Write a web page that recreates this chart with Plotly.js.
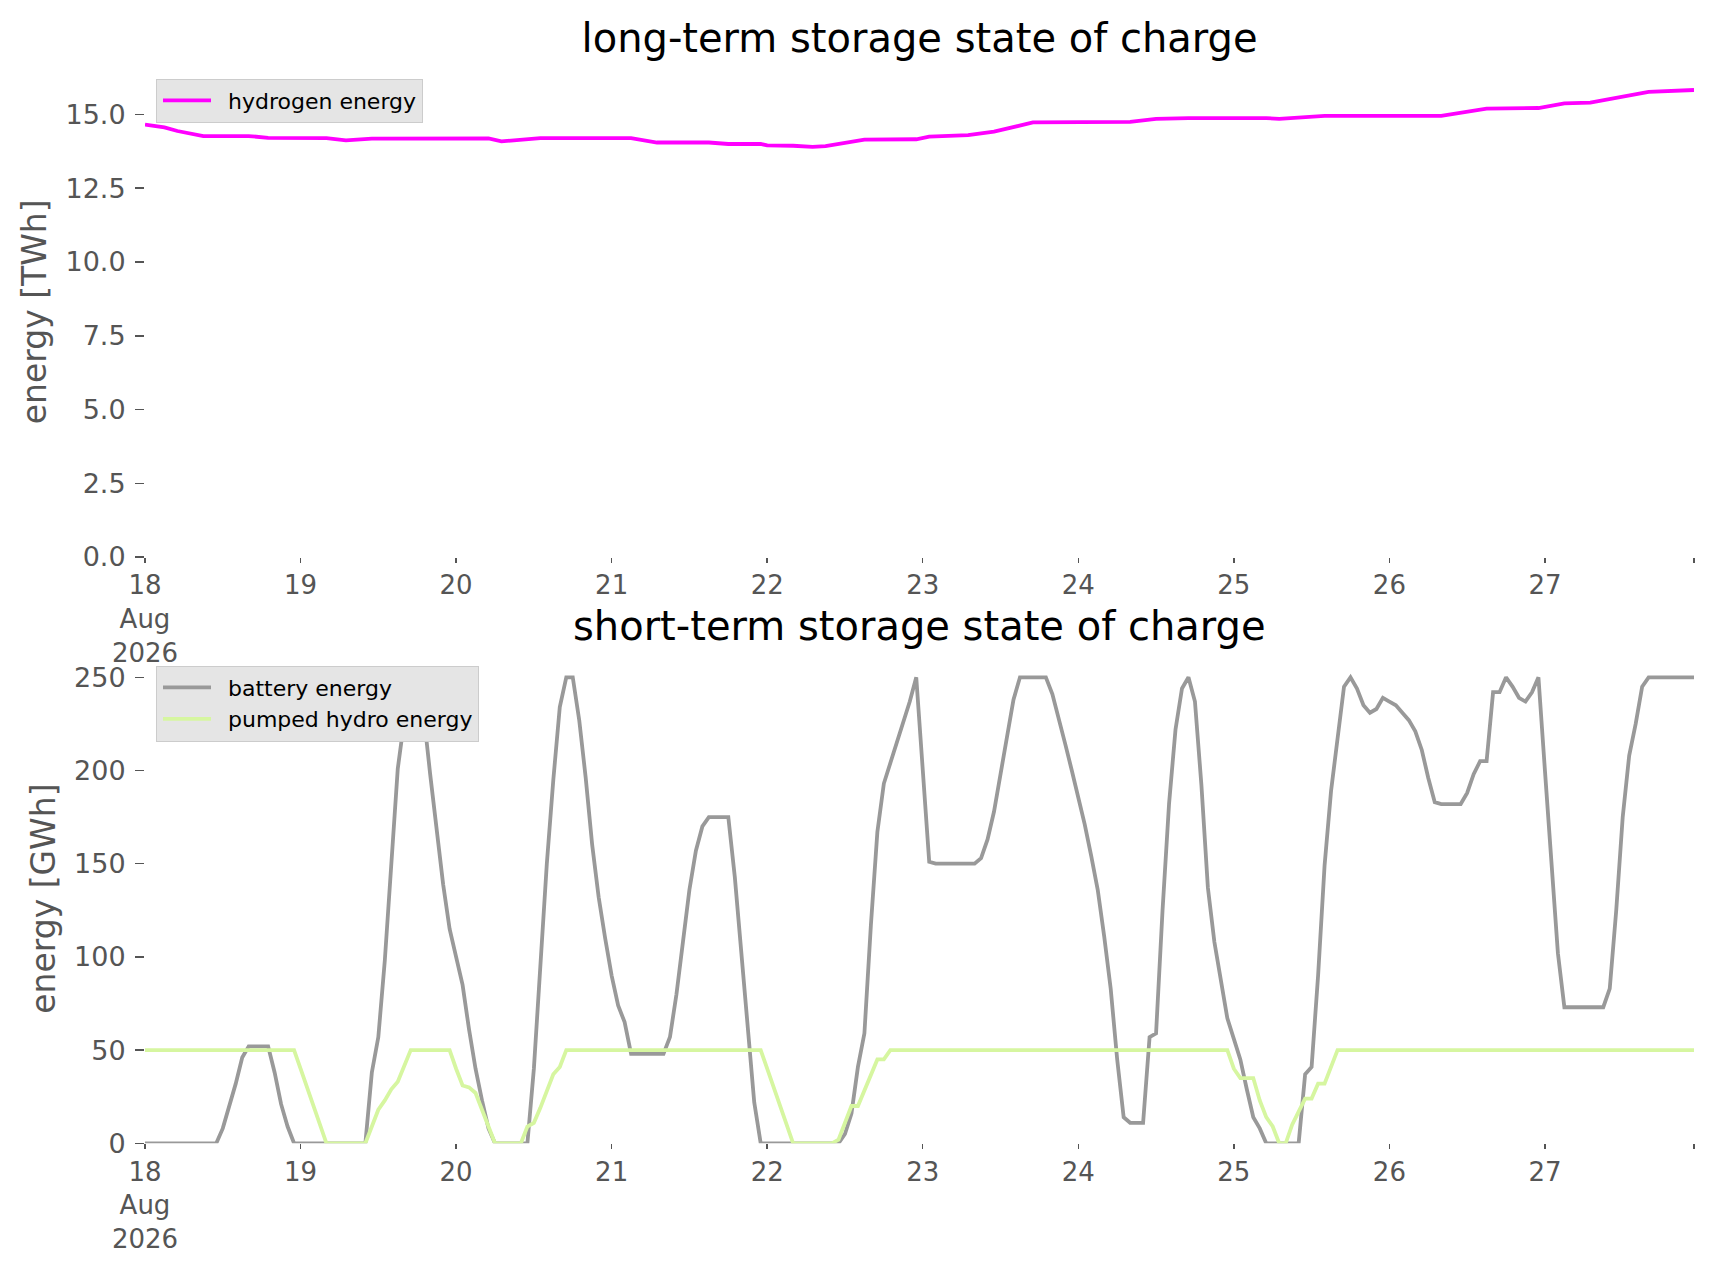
<!DOCTYPE html>
<html>
<head>
<meta charset="utf-8">
<script src="https://cdn.plot.ly/plotly-3.0.1.min.js"></script>
<style>
  html, body { margin: 0; padding: 0; background: #ffffff; }
  #chart { width: 1715px; height: 1277px; }
</style>
</head>
<body>
<div id="chart"></div>
<script>
// ---- data (hours since 2026-08-18 00:00, hourly resolution) ----
const startDate = [2026, 7, 18];          // 18 Aug 2026
const dayTickLabels = ['18<br>Aug<br>2026', '19', '20', '21', '22', '23', '24', '25', '26', '27', ''];
const dayTickHours = [0, 24, 48, 72, 96, 120, 144, 168, 192, 216, 239];

// long-term storage: hydrogen energy [TWh] (read at the line's corners)
const hydrogenHours = [0, 3, 5, 8, 9, 16, 19, 28, 31, 35, 53, 55, 59, 61, 75, 79, 87, 90, 95, 96, 100, 103, 105,
  111, 119, 121, 127, 131, 137, 152, 156, 161, 173, 175, 182, 200, 207, 215, 219, 223, 232, 239];
const hydrogenEnergy = [14.66, 14.56, 14.44, 14.30, 14.27, 14.27, 14.21, 14.20, 14.12, 14.18, 14.19, 14.09, 14.17,
  14.20, 14.20, 14.05, 14.05, 14.00, 14.00, 13.95, 13.94, 13.90, 13.93, 14.15, 14.16, 14.25, 14.30, 14.42, 14.73,
  14.75, 14.85, 14.88, 14.88, 14.85, 14.95, 14.95, 15.20, 15.22, 15.38, 15.40, 15.77, 15.83];

// short-term storage [GWh], one value per hour (240 values)
const batteryEnergy = [
  0, 0, 0, 0, 0, 0, 0, 0, 0, 0, 0, 0,
  8, 20, 32, 46, 52, 52, 52, 52, 38, 21, 9, 0,
  0, 0, 0, 0, 0, 0, 0, 0, 0, 0, 0,
  38, 57, 98, 150, 201, 227, 248, 250, 230, 198, 167, 139, 115,
  99, 85, 61, 40, 23, 8, 0, 0, 0, 0, 0, 0,
  40, 95, 150, 195, 234, 250, 250, 227, 196, 160, 132, 110,
  90, 74, 65, 48, 48, 48, 48, 48, 48, 57, 80, 108,
  136, 157, 170, 175, 175, 175, 175, 143, 102, 61, 22, 0,
  0, 0, 0, 0, 0, 0, 0, 0, 0, 0, 0, 0,
  5, 16, 41, 59, 117, 167, 193, 204, 214, 225, 237, 250,
  200, 151, 150, 150, 150, 150, 150, 150, 150, 153, 163, 178,
  199, 218, 238, 250, 250, 250, 250, 250, 241, 228, 214, 200,
  186, 171, 154, 136, 111, 83, 45, 14, 11, 11, 11, 57,
  59, 125, 182, 222, 244, 250, 237, 192, 137, 108, 88, 67,
  56, 45, 29, 14, 8, 0, 0, 0, 0, 0, 0, 37,
  41, 90, 149, 189, 219, 245, 250, 244, 235, 231, 233, 239,
  237, 235, 231, 227, 221, 211, 196, 183, 182, 182, 182, 182,
  188, 198, 205, 205, 242, 242, 250, 245, 239, 237, 242, 250,
  200, 150, 102, 73, 73, 73, 73, 73, 73, 73, 83, 125,
  175, 208, 225, 245, 250, 250, 250, 250, 250, 250, 250, 250
];
const pumpedHydroEnergy = [
  50, 50, 50, 50, 50, 50, 50, 50, 50, 50, 50, 50,
  50, 50, 50, 50, 50, 50, 50, 50, 50, 50, 50, 50,
  40, 30, 20, 10, 0, 0, 0, 0, 0, 0, 0,
  9, 18, 23, 29, 33, 42, 50, 50, 50, 50, 50, 50, 50,
  40, 31, 30, 27, 18, 9, 0, 0, 0, 0, 0,
  9, 11, 19, 28, 37, 41,
  50, 50, 50, 50, 50, 50, 50, 50, 50, 50, 50, 50, 50, 50, 50, 50,
  50, 50, 50, 50, 50, 50, 50, 50, 50, 50, 50, 50, 50, 50, 50,
  40, 30, 20, 10, 0, 0, 0, 0, 0, 0, 0,
  2, 11, 20, 20, 28, 37, 45, 45,
  50, 50, 50, 50, 50, 50, 50, 50, 50, 50, 50, 50, 50, 50, 50, 50, 50, 50,
  50, 50, 50, 50, 50, 50, 50, 50, 50, 50, 50, 50, 50, 50, 50, 50, 50, 50,
  50, 50, 50, 50, 50, 50, 50, 50, 50, 50, 50, 50, 50, 50, 50, 50, 50,
  40, 35, 35, 35, 23, 14, 9, 0, 0, 10, 17, 24, 24, 32, 32, 41,
  50, 50, 50, 50, 50, 50, 50, 50, 50, 50, 50, 50, 50, 50,
  50, 50, 50, 50, 50, 50, 50, 50, 50, 50, 50, 50, 50, 50,
  50, 50, 50, 50, 50, 50, 50, 50, 50, 50, 50, 50, 50, 50,
  50, 50, 50, 50, 50, 50, 50, 50, 50, 50, 50, 50, 50, 50
];

// ---- helpers ----
function hourToDate(h) {
  const d = new Date(Date.UTC(startDate[0], startDate[1], startDate[2], h));
  return d.toISOString().slice(0, 19).replace('T', ' ');
}
const hourlyX = batteryEnergy.map((_, i) => hourToDate(i));
const pumpedX = pumpedHydroEnergy.map((_, i) => hourToDate(i));
const hydrogenX = hydrogenHours.map(hourToDate);
const tickVals = dayTickHours.map(hourToDate);

const W = 1715, H = 1277;
const xDom = [145 / W, 1694 / W];
const topDom = [1 - 557 / H, 1 - 66.7 / H];
const botDom = [1 - 1143.3 / H, 1 - 654 / H];

const tickGray = '#555555';
const font = 'DejaVu Sans, Verdana, sans-serif';

const traces = [
  { x: hydrogenX, y: hydrogenEnergy, type: 'scatter', mode: 'lines', name: 'hydrogen energy',
    line: { color: '#ff00ff', width: 3.8 }, xaxis: 'x', yaxis: 'y', legend: 'legend' },
  { x: hourlyX, y: batteryEnergy, type: 'scatter', mode: 'lines', name: 'battery energy',
    line: { color: '#999999', width: 3.8 }, xaxis: 'x2', yaxis: 'y2', legend: 'legend2' },
  { x: pumpedX, y: pumpedHydroEnergy, type: 'scatter', mode: 'lines', name: 'pumped hydro energy',
    line: { color: '#d6f6a0', width: 3.8 }, xaxis: 'x2', yaxis: 'y2', legend: 'legend2' }
];

function xAxis(anchor) {
  return {
    type: 'date', domain: xDom, anchor: anchor,
    range: [hourToDate(0), hourToDate(239)],
    tickmode: 'array', tickvals: tickVals, ticktext: dayTickLabels,
    ticks: 'outside', ticklen: 5, tickwidth: 1.5, tickcolor: tickGray,
    tickfont: { family: font, size: 26, color: tickGray },
    showgrid: false, zeroline: false, showline: false, fixedrange: true
  };
}
function yAxis(anchor, domain, range, dtick, fmt, title) {
  return {
    domain: domain, anchor: anchor, range: range,
    tick0: 0, dtick: dtick, tickformat: fmt,
    ticks: 'outside', ticklen: 9, tickwidth: 1.5, tickcolor: tickGray,
    ticklabelstandoff: 4,
    tickfont: { family: font, size: 27, color: tickGray },
    showgrid: false, zeroline: false, showline: false,
    title: { text: title, font: { family: font, size: 33, color: tickGray }, standoff: 8 },
    automargin: false, fixedrange: true
  };
}

const legendStyle = (y) => ({
  x: 156 / W, y: y, xanchor: 'left', yanchor: 'top',
  bgcolor: '#e5e5e5', bordercolor: '#cccccc', borderwidth: 1,
  font: { family: font, size: 22, color: '#000000' },
  itemwidth: 61
});

const layout = {
  width: W, height: H,
  margin: { l: 0, r: 0, t: 0, b: 0 },
  paper_bgcolor: '#ffffff', plot_bgcolor: '#ffffff',
  showlegend: true,
  title: { text: 'long-term storage state of charge', x: 0.5362, xanchor: 'center', y: 1 - 38 / H, yanchor: 'middle',
    xref: 'paper', yref: 'paper', font: { family: font, size: 40, color: '#000000' } },
  annotations: [
    { text: 'short-term storage state of charge', x: 0.5362, y: 1 - 626 / H, xref: 'paper', yref: 'paper',
      xanchor: 'center', yanchor: 'middle', showarrow: false,
      font: { family: font, size: 40, color: '#000000' } }
  ],
  xaxis: xAxis('y'),
  yaxis: yAxis('x', topDom, [0, 16.62], 2.5, '.1f', 'energy [TWh]'),
  xaxis2: xAxis('y2'),
  yaxis2: yAxis('x2', botDom, [0, 262.5], 50, 'd', 'energy [GWh]'),
  legend: legendStyle(1 - 78.6 / H),
  legend2: legendStyle(1 - 665.5 / H)
};

Plotly.newPlot('chart', traces, layout, { displayModeBar: false, staticPlot: true }).then(function () {
  // lengthen the legend line samples to match matplotlib's legend handles
  document.querySelectorAll('.legendlines path').forEach(function (p) {
    p.setAttribute('d', 'M6,0h48');
  });
});
</script>
</body>
</html>
